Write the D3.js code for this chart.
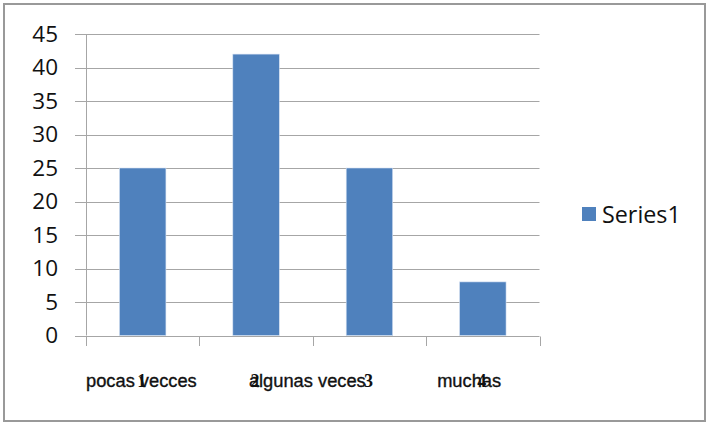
<!DOCTYPE html>
<html><head><meta charset="utf-8">
<script src="https://cdn.jsdelivr.net/npm/d3@7/dist/d3.min.js"></script>
<style>body{margin:0;background:#fff}svg{display:block}</style>
</head><body>
<svg id="c" width="707" height="423"></svg>
<script>
const categories = ["1", "2", "3", "4"];
const categoryNames = ["pocas vecces", "algunas veces", "", "muchas"];
const values = [25, 42, 25, 8];
const seriesName = "Series1";
const yTicks = [0, 5, 10, 15, 20, 25, 30, 35, 40, 45];

const svg = d3.select("#c");
const L = 86, R = 539.5, T = 34, B = 335.5;
const grid = "#a6a6a6";
const font = "'Open Sans', 'Liberation Sans', sans-serif";

svg.append("rect").attr("x", 4).attr("y", 4).attr("width", 701).attr("height", 417)
  .attr("fill", "#fff").attr("stroke", "#999").attr("stroke-width", 2);

const x = d3.scaleBand().domain(categories).range([L, R]).paddingInner(0.59).paddingOuter(0.295);
const xb = d3.scaleBand().domain(categories).range([L, R]);
const y = d3.scaleLinear().domain([0, 45]).range([B, T]);

// y tick labels
const gy = svg.append("g").attr("transform", `translate(${L - 11},0)`)
  .call(d3.axisLeft(y).tickValues(yTicks).tickSize(0).tickPadding(17));
gy.select(".domain").remove();
gy.selectAll("text").attr("font-family", font).attr("font-size", 22.5).attr("fill", "#111");
// gridlines (with left tick stubs)
svg.append("g").selectAll("line").data(yTicks).join("line")
  .attr("x1", L - 11).attr("x2", R).attr("y1", d => Math.round(y(d)) + 0.5).attr("y2", d => Math.round(y(d)) + 0.5)
  .attr("stroke", grid).attr("stroke-width", 1);
// y axis line
svg.append("line").attr("x1", L + 0.5).attr("x2", L + 0.5).attr("y1", Math.round(T) + 0.5).attr("y2", B)
  .attr("stroke", grid);
// x category boundary ticks
const bounds = categories.map(c => xb(c)).concat([R]);
svg.append("g").selectAll("line").data(bounds).join("line")
  .attr("x1", d => Math.round(d) + 0.5).attr("x2", d => Math.round(d) + 0.5)
  .attr("y1", Math.round(B) + 0.5).attr("y2", Math.round(B) + 10)
  .attr("stroke", grid);

// bars
svg.append("g").selectAll("rect").data(values).join("rect")
  .attr("x", (d, i) => x(categories[i]))
  .attr("width", x.bandwidth())
  .attr("y", d => y(d))
  .attr("height", d => B - y(d))
  .attr("fill", "#4f81bd").attr("stroke", "#d6e2f2").attr("stroke-width", 0.6);

// overlapping category names (placed as text boxes)
const nameStart = [0, 49.5, 0, 11];
svg.append("g").selectAll("text").data(categoryNames).join("text")
  .attr("x", (d, i) => xb(categories[i]) + nameStart[i])
  .attr("y", 387).attr("text-anchor", "start")
  .attr("font-family", "'Liberation Sans', Arial, sans-serif").attr("font-size", 18.3).attr("fill", "#111")
  .attr("stroke", "#111").attr("stroke-width", 0.35)
  .text(d => d);
// category numbers
svg.append("g").selectAll("text").data(categories).join("text")
  .attr("x", d => xb(d) + xb.bandwidth() / 2 - 1)
  .attr("y", 387).attr("text-anchor", "middle")
  .attr("font-family", "'Liberation Serif', 'Times New Roman', serif").attr("font-weight", "bold")
  .attr("font-size", 18).attr("fill", "#111")
  .text(d => d);

// legend
const lg = svg.append("g").attr("transform", "translate(582,207)");
lg.append("rect").attr("width", 14).attr("height", 14).attr("fill", "#4f81bd");
lg.append("text").attr("x", 20).attr("y", 15.5).attr("font-family", font).attr("font-size", 23.3).attr("fill", "#111").text(seriesName);
</script>
</body></html>
